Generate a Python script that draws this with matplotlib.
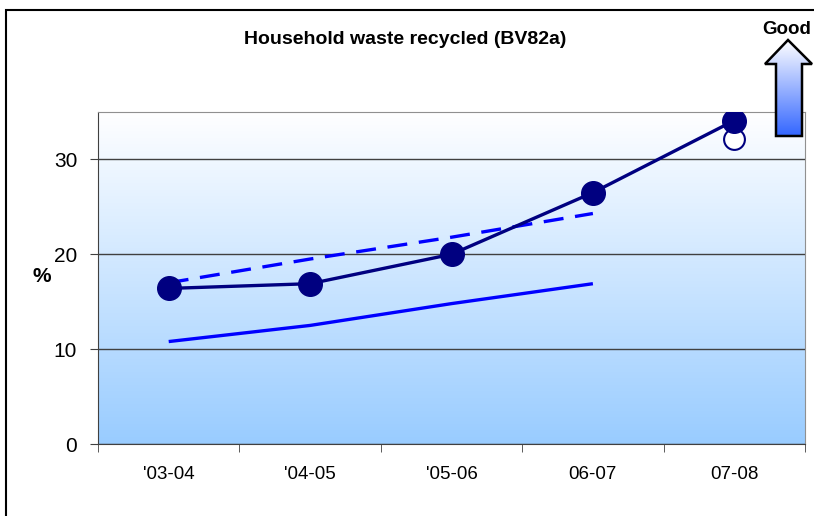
import numpy as np
import matplotlib.pyplot as plt
from matplotlib.patches import Polygon, Rectangle
from matplotlib.colors import LinearSegmentedColormap

years = ["'03-04", "'04-05", "'05-06", "06-07", "07-08"]
actual = [16.4, 16.9, 20.0, 26.5, 34.1]
target_0708 = 32.2
upper_quartile = [17.0, 19.5, 21.8, 24.3]
average = [10.8, 12.5, 14.8, 16.9]

plt.rcParams['font.family'] = ['Liberation Sans', 'DejaVu Sans']

W, H = 814, 516
fig = plt.figure(figsize=(W / 100, H / 100), dpi=100)
ax = fig.add_axes([98 / W, 1 - 444 / H, 707 / W, 332 / H])

# gradient fill behind the data
bg = LinearSegmentedColormap.from_list('bg', ['#99ccff', '#ffffff'])
ax.imshow(np.linspace(0, 1, 256).reshape(-1, 1), cmap=bg, aspect='auto',
          extent=(-0.5, 4.5, 0, 35), origin='lower', zorder=0)

x = np.arange(len(years))
ax.plot(x[:4], average, color='#0000ff', lw=2.4, solid_capstyle='butt', zorder=3)
ax.plot(x[:4], upper_quartile, color='#0000ff', lw=2.4, dashes=(6, 3.5), zorder=3)
ax.plot(x, actual, color='#000080', lw=2.4, marker='o', ms=17,
        mfc='#000080', mec='#000080', zorder=5)
ax.plot([x[4]], [target_0708], ls='none', marker='o', ms=15,
        mfc='white', mec='#000080', mew=1.5, zorder=4)

ax.set_xlim(-0.5, 4.5)
ax.set_ylim(0, 35)
ax.set_yticks([0, 10, 20, 30])
ax.yaxis.grid(True, color='#404040', lw=1)
ax.set_axisbelow(False)
for gl in ax.get_ygridlines():
    gl.set_zorder(1)

ax.set_xticks(x)
ax.set_xticklabels(years, fontsize=13.5)
ax.set_xticks(np.arange(-0.5, 5, 1), minor=True)
ax.tick_params(axis='x', which='major', length=0, pad=16)
ax.tick_params(axis='x', which='minor', length=6, color='#404040')
ax.tick_params(axis='y', length=6, color='#404040', labelsize=15, pad=9)

ax.spines['left'].set_color('#404040')
ax.spines['bottom'].set_color('#404040')
ax.spines['top'].set_color('#909090')
ax.spines['right'].set_color('#909090')

fig.text(42 / W, 1 - 277 / H, '%', fontsize=15, fontweight='bold',
         ha='center', va='center')
fig.text(405 / W, 1 - 40 / H, 'Household waste recycled (BV82a)',
         fontsize=14, fontweight='bold', ha='center', va='center')

# outer frame
fig.patches.append(Rectangle((6 / W, -0.1), 1.2, 1 - 10 / H + 0.1,
                             transform=fig.transFigure, fill=False,
                             ec='black', lw=1.5))

# "Good" arrow
fig.text(762 / W, 1 - 30 / H, 'Good', fontsize=13.5, fontweight='bold',
         ha='left', va='center')
pts = [(788, 40), (812, 64), (802, 64), (802, 136), (776, 136), (776, 64), (765, 64)]
pts = [(px / W, 1 - py / H) for px, py in pts]
arrow_bg = fig.add_axes([0, 0, 1, 1], zorder=10)
arrow_bg.set_xlim(0, 1)
arrow_bg.set_ylim(0, 1)
arrow_bg.axis('off')
grad = LinearSegmentedColormap.from_list('ar', ['#3366ff', '#ffffff'])
im = arrow_bg.imshow(np.linspace(0, 1, 256).reshape(-1, 1), cmap=grad, aspect='auto',
                     extent=(765 / W, 812 / W, 1 - 136 / H, 1 - 40 / H), origin='lower')
poly = Polygon(pts, closed=True, fill=False, ec='black', lw=1.8)
arrow_bg.add_patch(poly)
im.set_clip_path(poly)

fig.savefig('out.png', dpi=100)
